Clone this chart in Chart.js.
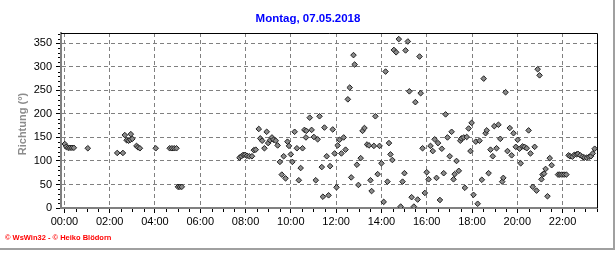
<!DOCTYPE html>
<html>
<head>
<meta charset="utf-8">
<script src="https://cdn.jsdelivr.net/npm/chart.js@4.4.1/dist/chart.umd.min.js"></script>
<style>
html, body { margin: 0; padding: 0; background: #fff; }
#rahmen { width: 616px; height: 253px; }
</style>
</head>
<body>
<div id="rahmen"><canvas id="grafico" width="616" height="253"></canvas></div>
<script>

// Texte
const titel = 'Montag, 07.05.2018';
const achsenTitel = 'Richtung (°)';
const fusszeile = '© WsWin32 - © Heiko Blödorn';

// Messzeitpunkte (Uhrzeit) und Windrichtung in Grad
const zeiten = [
    '00:01','00:05','00:10','00:15','00:20','00:25','01:02',
    '02:20','02:35','02:40','02:45','02:50','02:55','02:56','03:00',
    '03:11','03:15','03:20','04:02',
    '04:39','04:45','04:51','04:57','05:01','05:06','05:11',
    '07:44','07:49','07:54','07:59','08:04','08:10','08:17',
    '08:22','08:27','08:35','08:39','08:44','08:50','08:56',
    '09:00','09:05','09:10','09:14','09:20','09:25','09:31','09:36','09:41','09:46','09:51','09:55',
    '10:00','10:04','10:10','10:16','10:21','10:26','10:31','10:36','10:40','10:41','10:50','10:55',
    '11:01','11:06','11:11','11:16','11:22','11:25','11:29','11:35','11:40','11:44','11:51','11:56',
    '12:01','12:04','12:09','12:14','12:20','12:25','12:31','12:36','12:40','12:46','12:49','12:55','12:59',
    '13:05','13:10','13:15','13:22','13:27','13:31','13:34','13:40','13:44','13:50','13:55',
    '14:00','14:06','14:11','14:16','14:20','14:24','14:29','14:33','14:39','14:46','14:51','14:56',
    '15:01','15:04','15:10','15:14','15:20','15:26','15:30','15:36','15:41','15:44','15:49','15:55',
    '16:00','16:05','16:10','16:16','16:21','16:26','16:30','16:35','16:40','16:45','16:50','16:55',
    '17:01','17:06','17:11','17:14','17:19','17:25','17:29','17:32','17:38','17:41','17:46','17:51','17:56','17:59',
    '18:04','18:10','18:15','18:20','18:26','18:31','18:36','18:39','18:44','18:49','18:55','18:59',
    '19:05','19:10','19:15','19:20','19:23','19:29','19:34','19:40','19:45','19:50','19:56',
    '20:01','20:06','20:09','20:14','20:19','20:25','20:30','20:35','20:41','20:46','20:51','20:54','20:59',
    '21:04','21:07','21:11','21:15','21:20','21:26','21:31','21:48','21:53','21:58',
    '22:04','22:10','22:16','22:20','22:26','22:31','22:37','22:41','22:47','22:53','22:58',
    '23:04','23:10','23:15','23:20','23:25'
];

const richtung = [
    136,130,128,128,128,128,127,
    117,117,155,144,143,145,157,147,
    132,129,127,127,
    127,127,127,127,45,45,45,
    107,110,113,113,111,110,110,
    123,124,168,148,143,127,162,
    138,144,150,145,143,133,98,71,110,63,141,132,
    114,98,162,127,59,85,127,166,150,164,192,166,
    151,59,146,195,87,24,171,110,27,89,167,116,
    44,133,145,116,150,124,231,256,65,325,305,92,49,
    106,164,170,135,133,59,36,132,195,72,132,
    95,13,290,56,138,114,102,336,331,359,3,56,
    74,335,354,248,23,3,225,18,322,244,127,32,
    76,61,132,121,146,64,138,17,126,74,199,150,
    110,162,61,72,100,79,143,148,150,43,151,169,121,181,
    28,141,9,143,60,275,159,165,74,124,110,174,
    127,177,147,56,64,246,121,170,112,159,130,
    145,126,95,131,130,127,165,116,45,130,37,295,282,
    61,71,73,83,25,106,91,71,71,71,
    71,71,112,110,109,113,114,115,112,109,107,
    107,109,110,116,126
];

// Achsenteilung
const xTicks = [0, 2, 4, 6, 8, 10, 12, 14, 16, 18, 20, 22];
const xTickLabels = ['00:00','02:00','04:00','06:00','08:00','10:00','12:00','14:00','16:00','18:00','20:00','22:00'];
const yTicks = [0, 50, 100, 150, 200, 250, 300, 350];


function inStunden(zeit){
    const [h, m] = zeit.split(':').map(Number);
    return h + m / 60;
}

const punkte = zeiten.map((z, i) => ({ x: inStunden(z), y: richtung[i] }));

const schrift = '"Liberation Sans", Arial, sans-serif';

//Kleine Zwischenstriche, Rahmen und Texte
const zusatz = {
    id: 'zusatz',
    afterDraw(chart){
        const ctx = chart.ctx;
        const a = chart.chartArea;
        const sx = chart.scales.x;
        const sy = chart.scales.y;

        ctx.save();
        ctx.strokeStyle = '#000';
        ctx.lineWidth = 1;

        // Zwischenstriche y (alle 10 Grad)
        for (let v = 10; v <= 370; v += 10) {
            if (v % 50 == 0) continue;
            const y = Math.round(sy.getPixelForValue(v)) + 0.5;
            ctx.beginPath();
            ctx.moveTo(a.left - 3, y);
            ctx.lineTo(a.left - 1, y);
            ctx.stroke();
        }

        // Zwischenstriche x (alle 30 Minuten)
        for (let v = 0.5; v <= 23.5; v += 0.5) {
            if (v % 2 == 0) continue;
            const x = Math.round(sx.getPixelForValue(v)) + 0.5;
            ctx.beginPath();
            ctx.moveTo(x, a.bottom + 1);
            ctx.lineTo(x, a.bottom + 4);
            ctx.stroke();
        }

        // Rahmen oben und rechts
        ctx.beginPath();
        ctx.moveTo(a.left, a.top + 0.5);
        ctx.lineTo(a.right + 0.5, a.top + 0.5);
        ctx.lineTo(a.right + 0.5, a.bottom);
        ctx.stroke();

        // äußerer grauer Rand
        ctx.strokeStyle = '#a0a0a0';
        ctx.lineWidth = 2;
        ctx.beginPath();
        ctx.moveTo(614, 0);
        ctx.lineTo(614, 249);
        ctx.lineTo(0, 249);
        ctx.stroke();

        // Titel
        ctx.fillStyle = '#0000ff';
        ctx.font = 'bold 11.5px ' + schrift;
        ctx.textAlign = 'center';
        ctx.textBaseline = 'middle';
        ctx.fillText(titel, 308, 19);

        // Achsentitel
        ctx.save();
        ctx.translate(23, 124);
        ctx.rotate(-Math.PI / 2);
        ctx.fillStyle = '#8c8c8c';
        ctx.font = 'bold 11px ' + schrift;
        ctx.fillText(achsenTitel, 0, 0);
        ctx.restore();

        // Fußzeile
        ctx.fillStyle = '#ff0000';
        ctx.font = 'bold 7.5px ' + schrift;
        ctx.textAlign = 'left';
        ctx.fillText(fusszeile, 5, 238);

        ctx.restore();
    }
};


new Chart(document.getElementById('grafico'), {
    type: 'scatter',
    data: {
        datasets: [{
            data: punkte,
            pointStyle: 'rectRot',
            pointRadius: 2.8,
            backgroundColor: '#8a8a8a',
            borderColor: '#202020',
            borderWidth: 1
        }]
    },
    options: {
        responsive: false,
        animation: false,
        layout: { padding: { top: 33, right: 19, left: 0, bottom: 0 } },
        plugins: {
            legend: { display: false },
            tooltip: { enabled: false }
        },
        scales: {
            x: {
                type: 'linear',
                min: -0.15,
                max: 23.52,
                afterBuildTicks: s => { s.ticks = xTicks.map(v => ({ value: v })); },
                afterFit: s => { s.height = 45; },
                ticks: {
                    color: '#000',
                    font: { family: schrift, size: 11 },
                    padding: 2,
                    maxRotation: 0,
                    autoSkip: false,
                    callback: v => xTickLabels[xTicks.indexOf(v)]
                },
                grid: {
                    color: '#808080',
                    lineWidth: 1,
                    tickColor: '#000',
                    tickLength: 5,
                    tickBorderDash: []
                },
                border: { color: '#808080', width: 2, dash: [4, 3] }
            },
            y: {
                min: 0,
                max: 372,
                afterBuildTicks: s => { s.ticks = yTicks.map(v => ({ value: v })); },
                afterFit: s => { s.width = 61; },
                ticks: {
                    color: '#000',
                    font: { family: schrift, size: 11 },
                    padding: 4
                },
                grid: {
                    color: '#808080',
                    lineWidth: 1,
                    tickColor: '#000',
                    tickLength: 5,
                    tickBorderDash: []
                },
                border: { color: '#808080', width: 2, dash: [4, 3] }
            }
        }
    },
    plugins: [zusatz]
});
</script>
</body>
</html>
